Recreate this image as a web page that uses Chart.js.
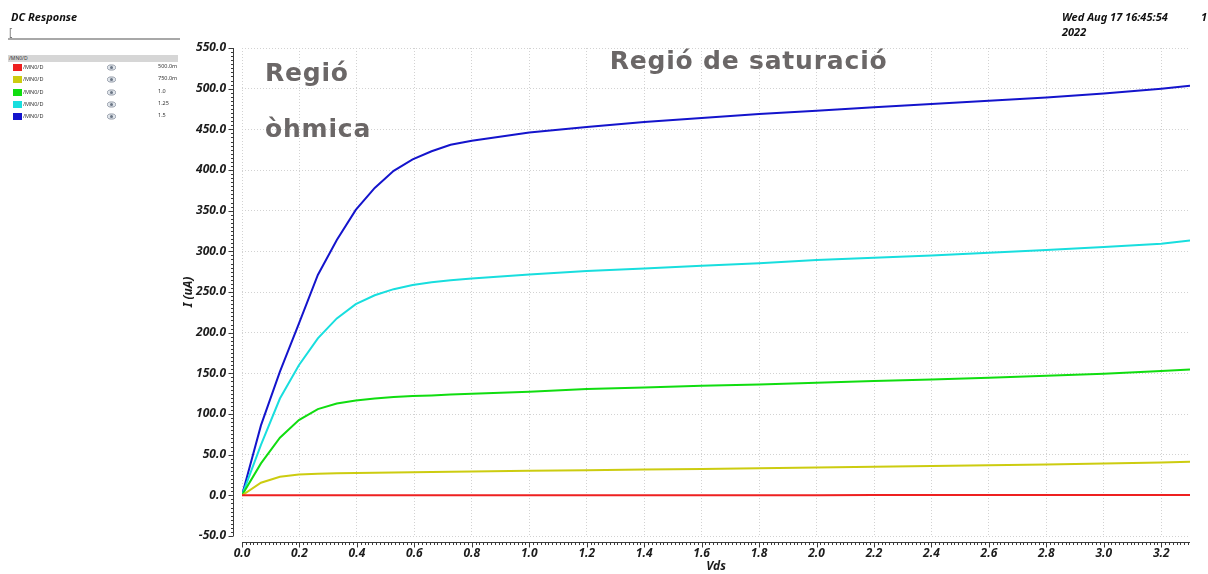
<!DOCTYPE html>
<html>
<head>
<meta charset="utf-8">
<title>DC Response</title>
<script src="https://cdn.jsdelivr.net/npm/chart.js@4.4.1/dist/chart.umd.min.js"></script>
<style>
  html, body { margin: 0; padding: 0; background: #fff; }
  #wrap { position: relative; width: 1208px; height: 574px; overflow: hidden; font-family: "Noto Sans", "Open Sans", sans-serif; }
  #plot { position: absolute; left: 0; top: 0; }
  .hdr { position: absolute; font-weight: bold; font-style: italic; font-size: 11px; color: #111; line-height: 15px; white-space: nowrap; }
  #browser { position: absolute; left: 8px; top: 26px; width: 172px; height: 12px; border-bottom: 2px solid #a8a8a8; }
  #browser span { position: absolute; left: 1px; top: 0px; font-size: 10px; color: #777; line-height: 12px; }
  #panel { position: absolute; left: 8px; top: 55px; width: 170px; }
  #panel .head { height: 7px; background: #d6d6d6; font-size: 5px; line-height: 7px; color: #333; padding-left: 1px; }
  .row { position: relative; height: 12.3px; font-size: 5.5px; color: #333; }
  .row .sw { position: absolute; left: 5px; top: 2px; width: 9px; height: 7px; }
  .row .nm { position: absolute; left: 15px; top: 2px; line-height: 7px; }
  .row .eye { position: absolute; left: 99px; top: 2px; }
  .row .val { position: absolute; left: 150px; top: 1px; line-height: 7px; }
</style>
</head>
<body>
<div id="wrap">
  <canvas id="plot" width="1208" height="574"></canvas>
  <div class="hdr" style="left:11px; top:9px;">DC Response</div>
  <div id="browser"><span>[</span></div>
  <div id="panel"><div class="head">/MN0/D</div></div>
  <div class="hdr" style="left:1062px; top:9px;">Wed Aug 17 16:45:54<br>2022</div>
  <div class="hdr" style="left:1201px; top:9px;">1</div>
</div>
<script>
// Drain-source sweep (V)
const vds = [0, 0.066, 0.132, 0.198, 0.264, 0.33, 0.396, 0.462, 0.528, 0.594, 0.66, 0.726,
             0.8, 1.0, 1.2, 1.4, 1.6, 1.8, 2.0, 2.2, 2.4, 2.6, 2.8, 3.0, 3.2, 3.3];

// Drain current of /MN0/D in uA, one array per gate voltage
const idVgs500m = [0, 0.05, 0.08, 0.1, 0.12, 0.13, 0.14, 0.15, 0.15, 0.16, 0.16, 0.17,
                   0.17, 0.18, 0.2, 0.21, 0.22, 0.24, 0.25, 0.27, 0.28, 0.3, 0.32, 0.34, 0.36, 0.37];
const idVgs750m = [0, 15.5, 22.9, 25.7, 26.6, 27.2, 27.6, 27.9, 28.2, 28.5, 28.7, 29,
                   29.2, 30.2, 30.8, 31.9, 32.5, 33.2, 34.3, 35.1, 36, 37, 38, 39.2, 40.5, 41.3];
const idVgs1v0  = [0, 39.3, 70.8, 92.6, 106, 113, 116.7, 119, 120.8, 122, 122.8, 124,
                   125, 127.4, 130.7, 132.7, 134.8, 136.4, 138.4, 140.5, 142.5, 144.6, 147, 149.5, 152.8, 154.8];
const idVgs1v25 = [0, 62, 119, 160, 193, 217.5, 235, 246, 253.5, 258.5, 262, 264.5,
                   266.7, 271.6, 275.8, 279, 282.3, 285.2, 289.3, 292.1, 295, 298.3, 301.6, 305.3, 309.4, 313.4];
const idVgs1v5  = [0, 86, 152, 211, 271, 314, 351, 378, 399, 413, 423, 431,
                   436, 446, 453, 459, 464, 469, 473, 477, 481, 485, 489, 494, 500, 503.5];

const traceName = '/MN0/D';
const vgsLabels = ['500.0m', '750.0m', '1.0', '1.25', '1.5'];
const seriesValues = [idVgs500m, idVgs750m, idVgs1v0, idVgs1v25, idVgs1v5];

// Axis ranges and labelled tick values
const xRange = [0, 3.3];
const xTickValues = [0, 0.2, 0.4, 0.6, 0.8, 1.0, 1.2, 1.4, 1.6, 1.8, 2.0, 2.2, 2.4, 2.6, 2.8, 3.0, 3.2];
const yRange = [-50, 550];
const yTickValues = [-50, 0, 50, 100, 150, 200, 250, 300, 350, 400, 450, 500, 550];
const xMinorStep = 0.2 / 15, yMinorStep = 5;

// Region annotations: [text, vds, current]
const regionNotes = [
  ['Regió', 0.08, 509],
  ['òhmica', 0.08, 441],
  ['Regió de saturació', 1.28, 524]
];

const traceColors = ['#ee2020', '#cccc10', '#10dd10', '#18dede', '#1414cc'];

// Legend panel rows
const panel = document.getElementById('panel');
const eyeSvg = '<svg width="9" height="7" viewBox="0 0 9 7"><ellipse cx="4.5" cy="3.5" rx="4.2" ry="2.6" fill="#dfe4ea" stroke="#7d8795" stroke-width="0.8"/><circle cx="4.5" cy="3.5" r="1.5" fill="#6b7686"/></svg>';
vgsLabels.forEach((lab, i) => {
  const r = document.createElement('div');
  r.className = 'row';
  r.innerHTML = '<div class="sw" style="background:' + traceColors[i] + '"></div>' +
                '<div class="nm">' + traceName + '</div>' +
                '<div class="eye">' + eyeSvg + '</div>' +
                '<div class="val">' + lab + '</div>';
  panel.appendChild(r);
});

const datasets = seriesValues.map((vals, i) => ({
  label: traceName + ' ' + vgsLabels[i],
  data: vds.map((x, k) => ({ x: x, y: vals[k] })),
  borderColor: traceColors[i],
  backgroundColor: traceColors[i],
  borderWidth: 2,
  pointRadius: 0,
  tension: 0,
  fill: false
}));

const tickFont = { family: '"Noto Sans", "Open Sans", sans-serif', size: 12, weight: 'bold', style: 'italic' };
const axisInk = '#3a3a3a';

// Detached axis lines with major and minor ticks, plus region annotations
const detachedAxes = {
  id: 'detachedAxes',
  afterDraw(chart) {
    const ctx = chart.ctx, ca = chart.chartArea;
    const xs = chart.scales.x, ys = chart.scales.y;
    ctx.save();
    ctx.strokeStyle = axisInk;
    ctx.lineWidth = 1;
    // vertical axis
    const ax = Math.round(ca.left - 9) + 0.5;
    ctx.beginPath();
    ctx.moveTo(ax, ys.getPixelForValue(yRange[1]));
    ctx.lineTo(ax, ys.getPixelForValue(yRange[0]));
    const nY = Math.round((yRange[1] - yRange[0]) / yMinorStep);
    for (let k = 0; k <= nY; k++) {
      const v = yRange[0] + k * yMinorStep;
      const py = Math.round(ys.getPixelForValue(v)) + 0.5;
      const len = yTickValues.includes(v) ? 5 : 2.5;
      ctx.moveTo(ax - len, py);
      ctx.lineTo(ax, py);
    }
    ctx.stroke();
    // horizontal axis
    const ay = Math.round(ca.bottom + 6) + 0.5;
    ctx.beginPath();
    ctx.moveTo(xs.getPixelForValue(xRange[0]), ay);
    ctx.lineTo(xs.getPixelForValue(xRange[1]), ay);
    const nX = Math.floor((xRange[1] - xRange[0]) / xMinorStep + 1e-6);
    for (let k = 0; k <= nX; k++) {
      const v = xRange[0] + k * xMinorStep;
      const px = Math.round(xs.getPixelForValue(v)) + 0.5;
      const len = (k % 15 === 0) ? 5 : 2.5;
      ctx.moveTo(px, ay);
      ctx.lineTo(px, ay + len);
    }
    ctx.stroke();
    // region labels
    ctx.fillStyle = '#6b6767';
    ctx.font = 'bold 25px "DejaVu Sans", sans-serif';
    if ('letterSpacing' in ctx) ctx.letterSpacing = '0.8px';
    ctx.textBaseline = 'alphabetic';
    ctx.textAlign = 'left';
    regionNotes.forEach(([txt, xv, yv]) => {
      ctx.fillText(txt, xs.getPixelForValue(xv), ys.getPixelForValue(yv));
    });
    ctx.restore();
  }
};

const fixedTicks = values => s => { s.ticks = values.map(v => ({ value: v })); };

new Chart(document.getElementById('plot'), {
  type: 'line',
  data: { datasets: datasets },
  plugins: [detachedAxes],
  options: {
    responsive: false,
    animation: false,
    events: [],
    layout: { padding: { left: 180, top: 48, right: 18, bottom: 0 } },
    plugins: { legend: { display: false }, tooltip: { enabled: false } },
    scales: {
      x: {
        type: 'linear',
        min: xRange[0], max: xRange[1],
        afterFit: s => { s.height = 38; },
        afterBuildTicks: fixedTicks(xTickValues),
        ticks: {
          padding: 10,
          color: '#1c1c1c',
          font: tickFont,
          maxRotation: 0,
          autoSkip: false,
          callback: v => Number(v).toFixed(1)
        },
        grid: { color: '#d2d2d2', lineWidth: 1, drawTicks: false },
        border: { display: false, dash: [1, 2] },
        title: { display: true, text: 'Vds', color: '#1c1c1c', font: tickFont, padding: { top: 0, bottom: 0 } }
      },
      y: {
        type: 'linear',
        min: yRange[0], max: yRange[1],
        afterFit: s => { s.width = 62; },
        afterBuildTicks: fixedTicks(yTickValues),
        ticks: {
          padding: 16,
          color: '#1c1c1c',
          font: tickFont,
          autoSkip: false,
          callback: v => Number(v).toFixed(1)
        },
        grid: { color: '#d2d2d2', lineWidth: 1, drawTicks: false },
        border: { display: false, dash: [1, 2] },
        title: { display: true, text: 'I (uA)', color: '#1c1c1c', font: tickFont, padding: { top: 1, bottom: 0 } }
      }
    }
  }
});
</script>
</body>
</html>
